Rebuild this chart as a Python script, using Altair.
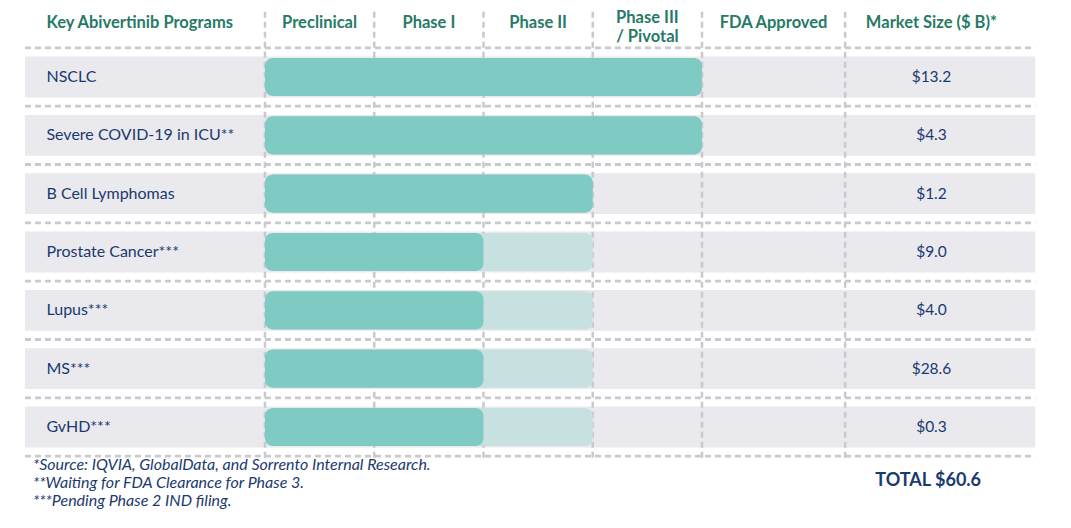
import altair as alt
import pandas as pd

# ---------------- data ----------------
programs = ["NSCLC", "Severe COVID-19 in ICU**", "B Cell Lymphomas", "Prostate Cancer***",
            "Lupus***", "MS***", "GvHD***"]
reached_stage = [4, 4, 3, 2, 2, 2, 2]     # stage reached (teal)
planned_stage = [4, 4, 3, 3, 3, 3, 3]     # planned next stage (light teal)
market_size = [13.2, 4.3, 1.2, 9.0, 4.0, 28.6, 0.3]
stages = ["Preclinical", "Phase I", "Phase II", "Phase III\n/ Pivotal", "FDA Approved"]
footnotes = ["*Source: IQVIA, GlobalData, and Sorrento Internal Research.",
             "**Waiting for FDA Clearance for Phase 3.",
             "***Pending Phase 2 IND filing."]
total_label = "TOTAL $60.6"

# ---------------- layout (stage units / row units) ----------------
col_bounds = [0, 1, 2, 3, 4, 5.31]     # vertical divider positions
left_edge, right_edge = -2.197, 7.05
market_center = 6.1
label_x = -2.0

GREEN = "#267A66"
NAVY = "#1B3A6E"
TEAL = "#7FCAC3"
LIGHT = "#C7E0E0"
BAND = "#E9E9EE"
DASH = "#C9C9CE"
FONT = "Lato"

X = alt.Scale(domain=[-2.352, 7.304], nice=False, zero=False)
Y = alt.Scale(domain=[-1.183, 7.595], nice=False, zero=False, reverse=True)

rows = pd.DataFrame({
    "row": list(range(len(programs))),
    "program": programs,
    "reached": reached_stage,
    "planned": planned_stage,
    "market": market_size,
})

base = alt.Chart(rows)

bands = base.transform_calculate(
    y0="datum.row - 0.35", y1="datum.row + 0.35",
    xa=str(left_edge), xb=str(right_edge)
).mark_rect(color=BAND).encode(
    x=alt.X("xa:Q", scale=X, axis=None), x2="xb:Q",
    y=alt.Y("y0:Q", scale=Y, axis=None), y2="y1:Q")

hlines_df = pd.DataFrame({"pos": [i - 0.5 for i in range(len(programs) + 1)]})
hlines = alt.Chart(hlines_df).transform_calculate(
    xa=str(left_edge), xb=str(right_edge)
).mark_rule(color=DASH, strokeWidth=2.8, strokeDash=[6, 4]).encode(
    x=alt.X("xa:Q", scale=X, axis=None), x2="xb:Q",
    y=alt.Y("pos:Q", scale=Y, axis=None))

vlines_df = pd.DataFrame({"pos": col_bounds})
vlines = alt.Chart(vlines_df).transform_calculate(
    ya="-1.12", yb="6.55"
).mark_rule(color=DASH, strokeWidth=2.5, strokeDash=[6, 4]).encode(
    x=alt.X("pos:Q", scale=X, axis=None),
    y=alt.Y("ya:Q", scale=Y, axis=None), y2="yb:Q")

light_bars = base.transform_calculate(
    y0="datum.row - 0.327", y1="datum.row + 0.327", x0="0"
).mark_bar(color=LIGHT, cornerRadius=8).encode(
    x=alt.X("x0:Q", scale=X, axis=None), x2="planned:Q",
    y=alt.Y("y0:Q", scale=Y, axis=None), y2="y1:Q")

teal_bars = base.transform_calculate(
    y0="datum.row - 0.327", y1="datum.row + 0.327", x0="0"
).mark_bar(color=TEAL, cornerRadius=8).encode(
    x=alt.X("x0:Q", scale=X, axis=None), x2="reached:Q",
    y=alt.Y("y0:Q", scale=Y, axis=None), y2="y1:Q")

labels = base.transform_calculate(lx=str(label_x)).mark_text(
    align="left", baseline="middle", font=FONT, fontSize=16, color=NAVY
).encode(
    x=alt.X("lx:Q", scale=X, axis=None),
    y=alt.Y("row:Q", scale=Y, axis=None),
    text="program:N")

values = base.transform_calculate(mx=str(market_center)).mark_text(
    align="center", baseline="middle", font=FONT, fontSize=15.5, color=NAVY
).encode(
    x=alt.X("mx:Q", scale=X, axis=None),
    y=alt.Y("row:Q", scale=Y, axis=None),
    text=alt.Text("market:Q", format="$.1f"))

head_labels = ["Key Abivertinib Programs"] + stages + ["Market Size ($ B)*"]
head_df = pd.DataFrame({
    "label": head_labels,
    "hx": [label_x] + [(col_bounds[i] + col_bounds[i + 1]) / 2 for i in range(len(stages))] + [market_center],
    "align": ["left"] + ["center"] * (len(stages) + 1),
})
head_df["lines"] = head_df["label"].str.count("\n") + 1
# first-line position: single lines centred, two-line header starts higher
head_df["hy"] = head_df["lines"].map({1: -0.925, 2: -1.02})

hx = alt.X("hx:Q", scale=X, axis=None)
hy = alt.Y("hy:Q", scale=Y, axis=None)
head_left = alt.Chart(head_df[head_df["align"] == "left"]).mark_text(
    align="left", baseline="middle", font=FONT, fontSize=16.5, fontWeight="bold", color=GREEN
).encode(x=hx, y=hy, text="label:N")
head_center = alt.Chart(head_df[head_df["align"] == "center"]).mark_text(
    align="center", baseline="middle", font=FONT, fontSize=16.5, fontWeight="bold", color=GREEN,
    lineBreak="\n", lineHeight=19
).encode(x=hx, y=hy, text="label:N")

foot_df = pd.DataFrame({"text": footnotes, "fy": [6.65, 6.96, 7.27]})
foot_df["fx"] = -2.124
foot = alt.Chart(foot_df).mark_text(
    align="left", baseline="middle", font=FONT, fontSize=16, fontStyle="italic", color=NAVY
).encode(x=alt.X("fx:Q", scale=X, axis=None), y=alt.Y("fy:Q", scale=Y, axis=None), text="text:N")

total_df = pd.DataFrame({"text": [total_label], "tx": [6.07], "ty": [6.93]})
total = alt.Chart(total_df).mark_text(
    align="center", baseline="middle", font=FONT, fontSize=18, fontWeight="bold", color=NAVY
).encode(x=alt.X("tx:Q", scale=X, axis=None), y=alt.Y("ty:Q", scale=Y, axis=None), text="text:N")

chart = alt.layer(
    bands, hlines, vlines, light_bars, teal_bars, labels, values,
    head_left, head_center, foot, total
).properties(
    width=1055, height=512, padding=0,
    autosize=alt.AutoSizeParams(type="none")
).configure(background="white").configure_view(stroke=None)

chart.save("out.html", embed_options={"renderer": "svg", "actions": False})
